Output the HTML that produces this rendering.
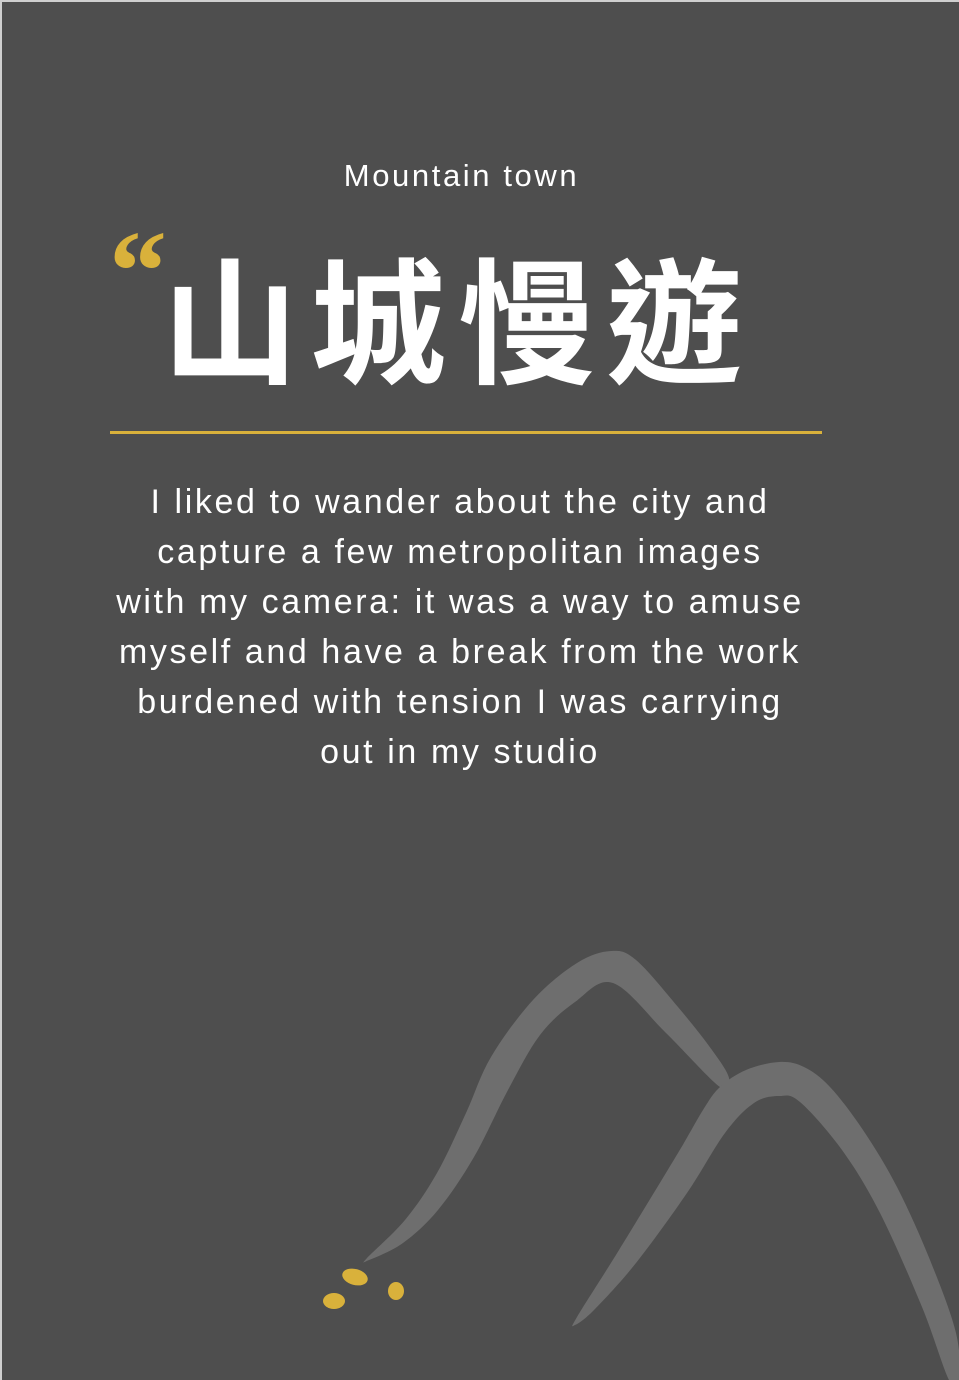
<!DOCTYPE html>
<html><head><meta charset="utf-8"><style>
html,body{margin:0;padding:0}
body{width:959px;height:1380px;overflow:hidden;background:#4e4e4e;position:relative;font-family:"Liberation Sans","Noto Sans CJK TC",sans-serif}
.frame{position:absolute;left:0;top:0;width:957px;height:1378px;border-top:2px solid #cfcfcf;border-left:2px solid #cfcfcf}
.sub{position:absolute;left:0;width:919px;top:158px;text-align:center;color:#fff;font-size:31px;letter-spacing:2.6px;padding-left:2px}
.title{position:absolute;left:162px;top:230px;color:#fff;font-family:"Noto Sans CJK TC",sans-serif;font-weight:700;font-size:136px;line-height:170px;letter-spacing:12px;white-space:nowrap}
.rule{position:absolute;left:110px;top:431px;width:712px;height:3px;background:#d9b13b}
.para{position:absolute;left:20px;width:880px;top:477px;text-align:center;color:#fff;font-size:34px;line-height:50px;letter-spacing:2.6px}
svg{position:absolute;left:0;top:0}
</style></head><body>
<div class="frame"></div>
<div class="sub">Mountain town</div>
<div class="title">山城慢遊</div>
<div class="rule"></div>
<div class="para">I liked to wander about the city and<br>capture a few metropolitan images<br>with my camera: it was a way to amuse<br>myself and have a break from the work<br>burdened with tension I was carrying<br>out in my studio</div>
<svg width="959" height="1380">
<text x="109" y="310" fill="#d9b13b" font-family="Liberation Serif,serif" font-weight="700" font-size="116">“</text>
<path id="m1" fill="#6e6e6e"/>
<path id="m2" fill="#6e6e6e"/>
<ellipse cx="355" cy="1277" rx="13" ry="8" fill="#d9b13b" transform="rotate(15 355 1277)"/>
<ellipse cx="334" cy="1301" rx="11" ry="8" fill="#d9b13b"/>
<ellipse cx="396" cy="1291" rx="8" ry="9" fill="#d9b13b"/>
</svg>
<script>
const leftPts=[[367,1258],[405,1220],[437,1173],[466,1113],[491,1057],[533,1000],[577,963],[611,951],[636,960],[678,1007],[712,1050],[729,1078],[720,1087],[666,1033],[613,983],[575,1002],[540,1035],[508,1090],[474,1157],[438,1210],[403,1243],[369,1260]];
const rightPts=[[720,1087],[746,1070],[779,1062],[804,1067],[830,1087],[863,1130],[897,1187],[930,1260],[956,1333],[959,1380],[949,1380],[922,1307],[880,1213],[842,1150],[800,1102],[779,1096],[754,1103],[725,1133],[687,1193],[636,1263],[594,1310],[575,1325],[577,1317],[619,1250],[678,1153],[703,1110]];
function smooth(p){let d='M'+p[0][0]+','+p[0][1];const n=p.length;for(let i=0;i<n;i++){const p0=p[(i-1+n)%n],p1=p[i],p2=p[(i+1)%n],p3=p[(i+2)%n];const c1=[p1[0]+(p2[0]-p0[0])/6,p1[1]+(p2[1]-p0[1])/6],c2=[p2[0]-(p3[0]-p1[0])/6,p2[1]-(p3[1]-p1[1])/6];d+=' C'+c1+' '+c2+' '+p2;}return d+'Z';}
document.getElementById('m1').setAttribute('d',smooth(leftPts));
document.getElementById('m2').setAttribute('d',smooth(rightPts));
</script>
</body></html>
